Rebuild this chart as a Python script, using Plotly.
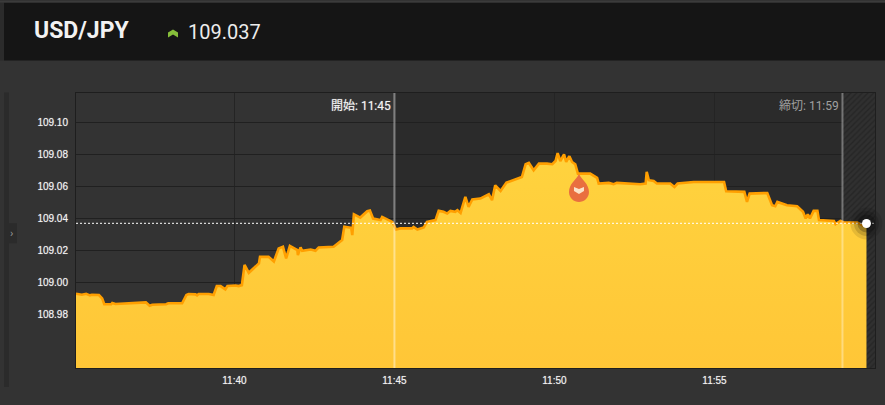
import plotly.graph_objects as go

DAY = "2020-01-06 "
TITLE = "USD/JPY"
LAST_LABEL = "109.037"
LAST_PRICE = 109.037
START_TIME = "11:45:00"
END_TIME = "11:59:00"
START_LABEL = "開始: 11:45"
END_LABEL = "締切: 11:59"
Y_TICKS = [108.98, 109.00, 109.02, 109.04, 109.06, 109.08, 109.10]
X_TICKS = ["11:40:00", "11:45:00", "11:50:00", "11:55:00"]
X_TICK_LABELS = ["11:40", "11:45", "11:50", "11:55"]

TIMES = """11:35:03 11:35:14 11:35:22 11:35:29 11:35:33 11:35:46 11:35:52 11:35:56 11:36:09 11:36:11 11:36:17
11:37:01 11:37:14 11:37:21 11:37:26 11:37:52 11:37:56 11:38:22 11:38:25 11:38:30 11:38:34 11:38:47 11:38:50
11:38:53 11:39:12 11:39:21 11:39:27 11:39:34 11:39:43 11:39:47 11:40:02 11:40:08 11:40:14 11:40:19 11:40:27
11:40:36 11:40:46 11:40:48 11:41:04 11:41:14 11:41:23 11:41:31 11:41:37 11:41:44 11:41:58 11:41:59 11:42:04
11:42:07 11:42:23 11:42:32 11:42:38 11:43:06 11:43:22 11:43:26 11:43:39 11:43:41 11:43:44 11:43:56 11:44:09
11:44:14 11:44:20 11:44:34 11:44:37 11:44:56 11:45:03 11:45:11 11:45:33 11:45:36 11:45:43 11:45:55 11:46:01
11:46:17 11:46:23 11:46:32 11:46:39 11:46:45 11:46:54 11:46:58 11:47:04 11:47:13 11:47:19 11:47:26 11:47:41
11:47:57 11:48:03 11:48:09 11:48:19 11:48:30 11:48:44 11:48:59 11:49:06 11:49:12 11:49:21 11:49:31 11:49:46
11:49:56 11:50:02 11:50:06 11:50:11 11:50:18 11:50:22 11:50:28 11:50:33 11:50:39 11:50:44 11:51:07 11:51:20
11:51:23 11:51:42 11:51:51 11:51:57 11:52:41 11:52:51 11:52:53 11:52:57 11:53:06 11:53:12 11:53:37 11:53:45
11:53:51 11:54:21 11:55:18 11:55:22 11:55:56 11:56:01 11:56:06 11:56:39 11:56:48 11:56:54 11:56:58 11:57:16
11:57:35 11:57:46 11:57:51 11:57:55 11:57:59 11:58:06 11:58:13 11:58:16 11:58:44 11:58:47 11:58:56 11:59:03
11:59:28 11:59:37 11:59:45""".split()

PRICES = [
    108.9929, 108.9923, 108.9929, 108.9919, 108.9923, 108.9921, 108.9900, 108.9863, 108.9863, 108.9871, 108.9865,
    108.9875, 108.9875, 108.9854, 108.9860, 108.9863, 108.9869, 108.9869, 108.9890, 108.9921, 108.9927, 108.9925, 108.9919,
    108.9927, 108.9927, 108.9921, 108.9977, 108.9977, 108.9956, 108.9977, 108.9981, 108.9977, 108.9983, 109.0110, 109.0060,
    109.0088, 109.0119, 109.0160, 109.0160, 109.0131, 109.0213, 109.0223, 109.0150, 109.0229, 109.0202, 109.0171, 109.0219,
    109.0198, 109.0206, 109.0198, 109.0219, 109.0223, 109.0265, 109.0348, 109.0342, 109.0296, 109.0427, 109.0406, 109.0446,
    109.0450, 109.0400, 109.0390, 109.0410, 109.0379, 109.0331, 109.0338, 109.0338, 109.0348, 109.0331, 109.0344, 109.0379,
    109.0390, 109.0448, 109.0442, 109.0431, 109.0448, 109.0442, 109.0452, 109.0435, 109.0535, 109.0473, 109.0519, 109.0525,
    109.0552, 109.0515, 109.0608, 109.0573, 109.0625, 109.0644, 109.0660, 109.0740, 109.0748, 109.0702, 109.0744, 109.0744,
    109.0740, 109.0760, 109.0810, 109.0760, 109.0802, 109.0754, 109.0790, 109.0754, 109.0740, 109.0681, 109.0681, 109.0654,
    109.0619, 109.0623, 109.0615, 109.0623, 109.0615, 109.0619, 109.0692, 109.0640, 109.0635, 109.0619, 109.0619, 109.0598,
    109.0619, 109.0629, 109.0629, 109.0571, 109.0567, 109.0504, 109.0556, 109.0560, 109.0483, 109.0477, 109.0504, 109.0483,
    109.0477, 109.0442, 109.0400, 109.0427, 109.0400, 109.0448, 109.0448, 109.0390, 109.0385, 109.0365, 109.0385, 109.0375,
    109.0375, 109.0358, 109.0369,
]

ALERT_TIME = "11:50:46"
ALERT_PRICE = 109.0585

X_RANGE = ["11:35:03", "12:00:01"]
Y_RANGE = [108.9464, 109.1186]

W, H = 885, 405
ML, MR, MT, MB = 76, 10, 92.5, 37
PW, PH = W - ML - MR, H - MT - MB


def d(t):
    return DAY + t


def px(x):
    return (x - ML) / PW


def py(y):
    return 1 - (y - MT) / PH


def box(x0, y0, x1, y1, color):
    return dict(type="rect", xref="paper", yref="paper", x0=px(x0), x1=px(x1), y0=py(y0), y1=py(y1),
                fillcolor=color, line_width=0, layer="below")


FONT = "Roboto, 'Noto Sans CJK JP', sans-serif"
TICK_FONT = "'Liberation Sans', Arial, sans-serif"
THICK = "0 0 1px rgba(255,255,255,0.55)"

fig = go.Figure()

# hatched closed-market band
fig.add_trace(go.Scatter(
    x=[d(END_TIME), d(X_RANGE[1])], y=[Y_RANGE[1], Y_RANGE[1]], mode="none", fill="tozeroy",
    fillcolor="#2a2a2a",
    fillpattern=dict(shape="/", fgcolor="#1c1c1c", bgcolor="#303030", size=4, solidity=0.35),
    hoverinfo="skip", showlegend=False))

# price area
fig.add_trace(go.Scatter(
    x=[d(t) for t in TIMES], y=PRICES, mode="lines", fill="tozeroy",
    line=dict(color="#FF9F00", width=2.6),
    fillgradient=dict(type="vertical", start=109.08, stop=Y_RANGE[0],
                      colorscale=[[0, "#FFD33E"], [1, "#FFC637"]]),
    showlegend=False))

# last-price dashed line
fig.add_trace(go.Scatter(
    x=[d(X_RANGE[0]), d(X_RANGE[1])], y=[LAST_PRICE, LAST_PRICE], mode="lines",
    line=dict(color="#ffffff", width=1, dash="2px,2px"), showlegend=False))

# last-price marker with soft shadow
for size, col in [(32, "rgba(0,0,0,0.10)"), (25, "rgba(0,0,0,0.14)"), (18, "rgba(0,0,0,0.22)"),
                  (9, "#ffffff")]:
    fig.add_trace(go.Scatter(
        x=[d(TIMES[-1])], y=[PRICES[-1]], mode="markers", cliponaxis=False,
        marker=dict(size=size, color=col, line_width=0), showlegend=False))

shapes = [
    box(0, 0, W, H, "#333333"),
    box(0, 0, W, 2, "#3b3b3b"),
    box(4, 2, W, 60, "#151515"),
    box(0, 2, 4, 60, "#2b2b2b"),
    box(4, 92, 9, 387, "#2b2b2b"),
    box(9, 223, 17, 243, "#2b2b2b"),
    # darker zone for the session after the start line
    dict(type="rect", xref="x", yref="paper", x0=d(START_TIME), x1=d(X_RANGE[1]), y0=0, y1=1,
         fillcolor="#2b2b2b", line_width=0, layer="below"),
    # start / end lines
    dict(type="line", xref="x", yref="paper", x0=d(START_TIME), x1=d(START_TIME), y0=0, y1=1,
         line=dict(color="rgba(255,255,255,0.42)", width=2), layer="above"),
    dict(type="line", xref="x", yref="paper", x0=d(END_TIME), x1=d(END_TIME), y0=0, y1=1,
         line=dict(color="rgba(255,255,255,0.35)", width=2), layer="above"),
    # alert drop and chevron
    dict(type="path", xref="x", yref="y", xsizemode="pixel", ysizemode="pixel",
         xanchor=d(ALERT_TIME), yanchor=ALERT_PRICE,
         path="M 0 15 C 3 9 10 5 10 -3 C 10 -9 5 -13 0 -13 C -5 -13 -10 -9 -10 -3 C -10 5 -3 9 0 15 Z",
         fillcolor="#E96F3F", line_width=0, layer="above"),
    dict(type="path", xref="x", yref="y", xsizemode="pixel", ysizemode="pixel",
         xanchor=d(ALERT_TIME), yanchor=ALERT_PRICE,
         path="M -5 2 L 0 0 L 5 2 L 5 -2 L 0 -5 L -5 -2 Z",
         fillcolor="#FBE3C8", line_width=0, layer="above"),
    # header arrow
    dict(type="path", xref="paper", yref="paper", xsizemode="pixel", ysizemode="pixel",
         xanchor=px(173), yanchor=py(34),
         path="M -5 -3 L -5 2 L 0 5 L 5 2 L 5 -3 L 0 0 Z",
         fillcolor="#86BE3A", line_width=0, layer="above"),
]

annotations = [
    dict(x=px(32), y=py(30), xref="paper", yref="paper", text=f"<b>{TITLE}</b>", showarrow=False,
         xanchor="left", yanchor="middle", font=dict(family=FONT, size=23, color="#f2f2f2")),
    dict(x=px(186), y=py(31), xref="paper", yref="paper", text=LAST_LABEL, showarrow=False,
         xanchor="left", yanchor="middle", font=dict(family=FONT, size=20, color="#ececec")),
    dict(x=d(START_TIME), y=py(105.5), xref="x", yref="paper", text=START_LABEL, showarrow=False,
         xanchor="right", xshift=-1, yanchor="middle",
         font=dict(family=FONT, size=12, color="#f4f4f4", shadow=THICK)),
    dict(x=d(END_TIME), y=py(105.5), xref="x", yref="paper", text=END_LABEL, showarrow=False,
         xanchor="right", xshift=-1, yanchor="middle",
         font=dict(family=FONT, size=12, color="#a0a0a0")),
    dict(x=px(11), y=py(233), xref="paper", yref="paper", text="›", showarrow=False,
         xanchor="center", yanchor="middle", font=dict(family=FONT, size=11, color="#9a9a9a")),
]

fig.update_layout(
    width=W, height=H,
    margin=dict(l=ML, r=MR, t=MT, b=MB, pad=0),
    paper_bgcolor="#333333", plot_bgcolor="#333333",
    showlegend=False, shapes=shapes, annotations=annotations,
    xaxis=dict(type="date", range=[d(X_RANGE[0]), d(X_RANGE[1])],
               tickvals=[d(t) for t in X_TICKS], ticktext=X_TICK_LABELS, ticks="", ticklen=0,
               ticklabelstandoff=3,
               showgrid=True, gridcolor="#242424", gridwidth=1, zeroline=False,
               showline=True, linecolor="#1e1e1e", linewidth=1, mirror=True,
               tickfont=dict(family=TICK_FONT, size=10, color="#f4f4f4", shadow=THICK)),
    yaxis=dict(range=Y_RANGE, tickvals=Y_TICKS, ticktext=[f"{v:.2f}" for v in Y_TICKS], ticks="",
               ticklabelstandoff=5,
               showgrid=True, gridcolor="#202020", gridwidth=1, zeroline=False,
               showline=True, linecolor="#1e1e1e", linewidth=1, mirror=True,
               tickfont=dict(family=TICK_FONT, size=10, color="#f4f4f4", shadow=THICK)),
)

fig.write_html("out.html", config={"displayModeBar": False},
               post_script="document.body.style.margin='0';document.body.style.overflow='hidden';")
